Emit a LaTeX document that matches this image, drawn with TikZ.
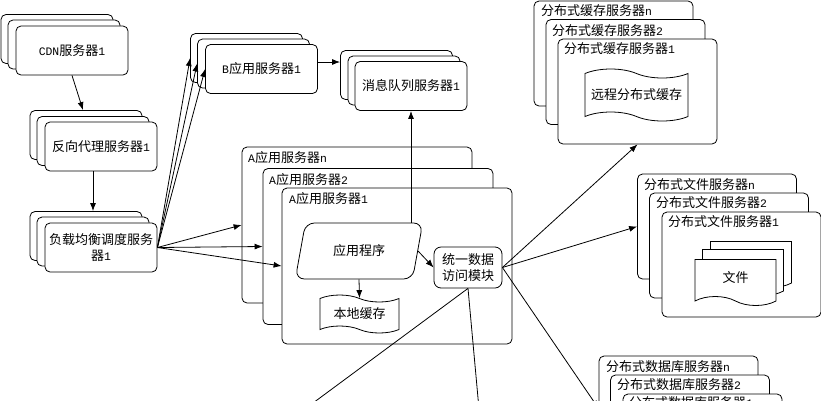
\documentclass[tikz,border=0pt]{standalone}
\usepackage{fontspec}
\setmainfont{Noto Sans CJK SC}
\newfontfamily\latfont[Scale=0.88]{Liberation Mono}
\newcommand{\lat}[1]{{\latfont #1}}
\usetikzlibrary{arrows.meta,shapes.geometric,shapes.symbols}
\begin{document}
\begin{tikzpicture}[
    x=1pt,
    y=-1pt,
    every node/.style={font=\fontsize{13}{16}\selectfont, inner sep=0pt, align=center},
    box/.style={rectangle, draw, fill=white, rounded corners=5pt, line width=0.8pt},
    srv/.style={box, minimum width=112pt, minimum height=49pt},
    appbox/.style={box, minimum width=230pt, minimum height=156pt},
    big/.style={box, minimum width=159pt, minimum height=105pt},
    module/.style={box, rounded corners=7pt, minimum width=68pt, minimum height=41pt},
    title/.style={anchor=west},
    prog/.style={trapezium, draw, fill=white, line width=0.8pt, rounded corners=9pt,
        trapezium left angle=68, trapezium right angle=112, trapezium stretches=true,
        minimum width=128pt, minimum height=56pt},
    wave/.style={tape, draw, fill=white, line width=0.8pt, tape bend top=out and in,
        tape bend bottom=out and in, tape bend height=9pt},
    sheet/.style={wave, tape bend top=none, minimum width=81pt, minimum height=46pt},
    arrow/.style={-{Latex[length=8pt,width=6pt]}, line width=0.8pt}
]
\clip (0,0) rectangle (821,400);

% CDN
\node[srv] (cdnA) at (57,39) {};
\node[srv] (cdnB) at (64,44.5) {};
\node[srv] (cdnC) at (72,50.5) {\lat{CDN}服务器\lat{1}};

% Reverse proxy
\node[srv] (proxyA) at (86,135) {};
\node[srv] (proxyB) at (93,141) {};
\node[srv] (proxyC) at (101,146.5) {反向代理服务器\lat{1}};

% Load balancer
\node[srv] (lbA) at (86,236) {};
\node[srv] (lbB) at (93,241.5) {};
\node[srv] (lbC) at (101,247.5) {负载均衡调度服务\\器\lat{1}};

% B servers
\node[srv] (bappA) at (246.5,58) {};
\node[srv] (bappB) at (253.5,63.5) {};
\node[srv] (bappC) at (261.5,69) {\lat{B}应用服务器\lat{1}};

% Message queue
\node[srv] (mqA) at (396.5,75) {};
\node[srv] (mqB) at (404,80.5) {};
\node[srv] (mqC) at (411,86) {消息队列服务器\lat{1}};

% A servers
\node[appbox] (aappA) at (357,225) {};
\node[title] (aappAt) at (248,158) {\lat{A}应用服务器\lat{n}};
\node[appbox] (aappB) at (378,246.5) {};
\node[title] (aappBt) at (269,180) {\lat{A}应用服务器\lat{2}};
\node[appbox] (aappC) at (397,266) {};
\node[title] (aappCt) at (289,199) {\lat{A}应用服务器\lat{1}};
\node[prog] (app) at (359,251) {应用程序};
\node[wave, tape bend height=7pt, minimum width=79pt, minimum height=38pt] (local) at (359.5,314) {本地缓存};
\node[module] (dam) at (468,267.5) {统一数据\\访问模块};

% Cache servers
\node[big] (cacheA) at (613.5,53.5) {};
\node[title] (cacheAt) at (541,11) {分布式缓存服务器\lat{n}};
\node[big] (cacheB) at (625.5,72) {};
\node[title] (cacheBt) at (552,31) {分布式缓存服务器\lat{2}};
\node[big] (cacheC) at (637.5,91.5) {};
\node[title] (cacheCt) at (564,49) {分布式缓存服务器\lat{1}};
\node[wave, minimum width=103pt, minimum height=52pt] (remote) at (636.5,95) {远程分布式缓存};

% File servers
\node[big] (fileA) at (717,226.5) {};
\node[title] (fileAt) at (644,185) {分布式文件服务器\lat{n}};
\node[big] (fileB) at (729,245.5) {};
\node[title] (fileBt) at (656,203) {分布式文件服务器\lat{2}};
\node[big] (fileC) at (741.5,264.5) {};
\node[title] (fileCt) at (668,222) {分布式文件服务器\lat{1}};
\node[sheet] (docA) at (751,260) {};
\node[sheet] (docB) at (743,268) {};
\node[sheet] (docC) at (735.5,278) {文件};

% Database servers
\node[big] (dbA) at (678.5,408.5) {};
\node[title] (dbAt) at (606,367) {分布式数据库服务器\lat{n}};
\node[big] (dbB) at (690,427.5) {};
\node[title] (dbBt) at (617,385) {分布式数据库服务器\lat{2}};
\node[big] (dbC) at (702.5,446.5) {};
\node[title] (dbCt) at (629,403) {分布式数据库服务器\lat{1}};

% Connections
\coordinate (outL) at (290,420);
\coordinate (outR) at (480,420);
\draw[arrow] (cdnC.south) -- ([xshift=-3pt]proxyA.north);
\draw[arrow] ([xshift=-8pt]proxyC.south) -- ([xshift=7pt]lbA.north);
\draw[arrow] (lbC.east) -- (bappA.west);
\draw[arrow] (lbC.east) -- (bappB.west);
\draw[arrow] (lbC.east) -- (bappC.west);
\draw[arrow] (lbC.east) -- (aappA.west);
\draw[arrow] (lbC.east) -- (aappB.west);
\draw[arrow] (lbC.east) -- (aappC.west);
\draw[arrow] ([yshift=7pt]bappC.east) -- ([yshift=13pt]mqA.west);
\draw[arrow] (app.north -| mqC.south) -- (mqC.south);
\draw[arrow] (app.south) -- (local.north);
\draw[arrow] (app.east) -- (dam.west);
\draw[arrow] (dam.east) -- (cacheC.south);
\draw[arrow] (dam.east) -- (fileA.west);
\draw[arrow] (dam.east) -- (dbA.west);
\draw[line width=0.8pt] (dam.south) -- (outL);
\draw[line width=0.8pt] (dam.south) -- (outR);

\end{tikzpicture}
\end{document}
